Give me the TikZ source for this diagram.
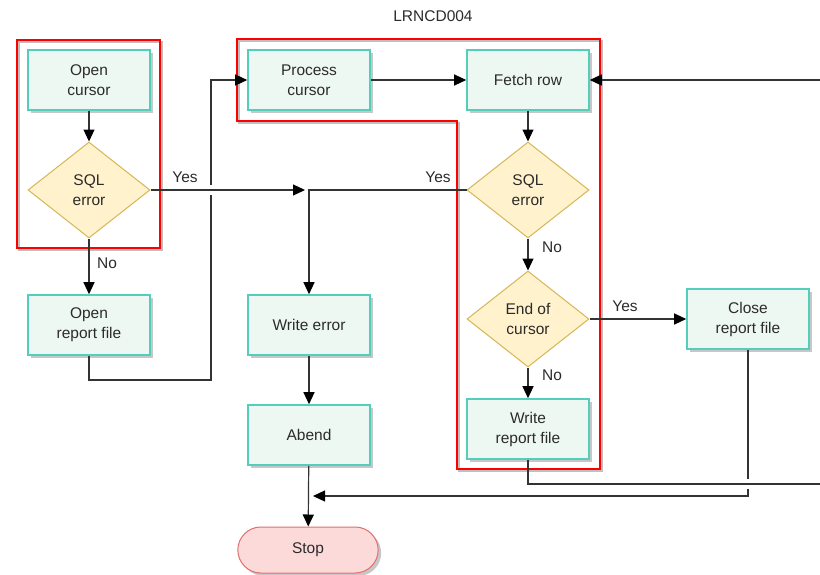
\documentclass[tikz,border=0pt]{standalone}
\usepackage{fontspec}
\setmainfont{Liberation Sans}
\usetikzlibrary{shapes.geometric,shapes.misc,arrows.meta,shadows}
\definecolor{boxfill}{HTML}{EEF8F3}
\definecolor{boxdraw}{HTML}{55CDBB}
\definecolor{dfill}{HTML}{FFF2CC}
\definecolor{ddraw}{HTML}{D6B656}
\definecolor{sfill}{HTML}{FDDADA}
\definecolor{sdraw}{HTML}{E07070}
\definecolor{lcol}{HTML}{333333}
\definecolor{tcol}{HTML}{2B2B2B}
\begin{document}
\begin{tikzpicture}[x=1pt,y=-1pt, font=\fontsize{15.5}{20}\selectfont, text=tcol,
 shad/.style={drop shadow={shadow xshift=3pt,shadow yshift=-3pt,opacity=0.22,fill=black}},
 proc/.style={rectangle, draw=boxdraw, fill=boxfill, line width=1.6pt, minimum width=122pt, minimum height=60pt, align=center, inner sep=0pt, shad},
 dec/.style={diamond, draw=ddraw, fill=dfill, line width=1pt, minimum width=122pt, minimum height=96pt, aspect=1.27, inner sep=0pt, align=center},
 term/.style={rounded rectangle, draw=sdraw, fill=sfill, line width=1pt, minimum width=147pt, minimum height=46pt, shad},
 conn/.style={draw=lcol, line width=1.2pt, -{Triangle[length=12pt,width=11pt,color=black]}},
 lbl/.style={inner sep=0pt},
 grp/.style={draw=red, line width=2pt},
 grpshadow/.style={draw=black!25, line width=2pt}
]
\fill[white] (0,0) rectangle (820,574);
\useasboundingbox (0,0) rectangle (820,574);

% group containers
\draw[grpshadow] (19,42) rectangle (162,250);
\draw[grp] (17,40) rectangle (160,248);
\draw[grpshadow] (239,41) -- (602,41) -- (602,471) -- (459,471) -- (459,123) -- (239,123) -- cycle;
\draw[grp] (237,39) -- (600,39) -- (600,469) -- (457,469) -- (457,121) -- (237,121) -- cycle;

% nodes
\node (title) at (433,16) {LRNCD004};
\node[proc] (oc) at (89,80) {Open\\cursor};
\node[dec] (s1) at (89,190) {SQL\\error};
\node[proc] (orf) at (89,325) {Open\\report file};
\node[proc] (pc) at (309,80) {Process\\cursor};
\node[proc] (fr) at (528,80) {Fetch row};
\node[dec] (s2) at (528,190) {SQL\\error};
\node[dec] (eoc) at (528,319) {End of\\cursor};
\node[proc] (wrf) at (528,429) {Write\\report file};
\node[proc] (crf) at (748,319) {Close\\report file};
\node[proc] (we) at (309,325) {Write error};
\node[proc] (ab) at (309,435) {Abend};
\node[term] (st) at (308,550) {Stop};

% helper coordinates
\coordinate (j1) at (305,190);
\coordinate (r1) at (211,380);
\coordinate (e1) at (830,484);
\coordinate (j2) at (313,496);

% connectors
\draw[conn] (oc) -- (s1);
\draw[conn] (s1) -- (orf);
\draw[conn] (orf.south) |- (r1) |- (pc.west);
\draw[white, line width=3pt] (211,185) -- (211,195);
\draw[conn] (s1.east) -- (j1);
\draw[conn] (s2.west) -| (we.north);
\draw[conn] (pc) -- (fr);
\draw[conn] (fr) -- (s2);
\draw[conn] (s2) -- (eoc);
\draw[conn] (eoc) -- (wrf);
\draw[conn] (eoc) -- (crf);
\draw[conn] (we) -- (ab);
\draw[conn] (ab) -- (st);
\draw[conn] (crf.south) |- (j2);
\draw[white, line width=3pt] (748,479) -- (748,489);
\draw[conn] (wrf.south) |- (e1) |- (fr.east);

% labels
\node[lbl] (y1) at (185,177) {Yes};
\node[lbl] (n1) at (107,263) {No};
\node[lbl] (y2) at (438,177) {Yes};
\node[lbl] (n2) at (552,247) {No};
\node[lbl] (y3) at (625,306) {Yes};
\node[lbl] (n3) at (552,375) {No};
\end{tikzpicture}
\end{document}
